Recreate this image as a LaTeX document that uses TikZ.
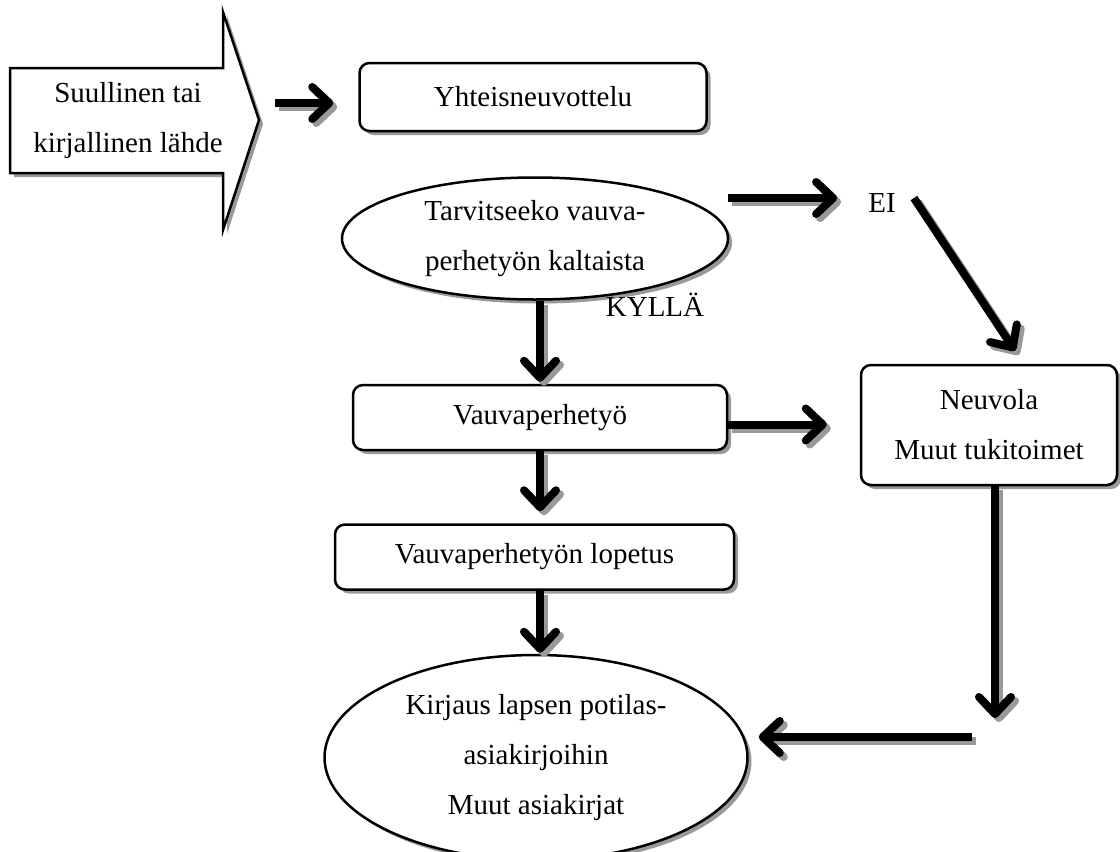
\documentclass[tikz,border=0pt]{standalone}
\usepackage{fontspec}
\setmainfont{Liberation Serif}
\usetikzlibrary{arrows.meta,positioning,shapes.geometric,shadows}

\begin{document}
\begin{tikzpicture}[
  x=1pt, y=-1pt,
  font=\fontsize{29}{50}\selectfont,
  varjo/.style={drop shadow={shadow xshift=4pt, shadow yshift=-4pt, fill=black!40, opacity=1}},
  box/.style={draw, line width=2.5pt, rounded corners=10pt, fill=white, varjo,
              align=center, inner sep=0pt},
  soikio/.style={ellipse, draw, line width=2.5pt, fill=white, varjo,
                 align=center, inner sep=0pt},
  teksti/.style={inner sep=0pt},
  arr/.style={line width=8pt, -{Straight Barb[length=17pt,width=32pt,round]}},
  varjoviiva/.style={draw=black!40, transform canvas={shift={(4pt,-4pt)}}}
]
\useasboundingbox (0,0) rectangle (1120,852);

% lahde: iso nuoli
\fill[black!40] (14,72) -- (227,72) -- (227,16) -- (263,124) -- (227,234) -- (227,177) -- (14,177) -- cycle;
\draw[line width=2.5pt, fill=white] (10,68) -- (223,68) -- (223,12) -- (259,120) -- (223,230) -- (223,173) -- (10,173) -- cycle;
\node[teksti, align=center] (lahde) at (128,121) {Suullinen tai\\kirjallinen lähde};
\coordinate (karki) at (275,103);

\node[box, minimum width=347pt, minimum height=68pt] (yht) at (533,97) {Yhteisneuvottelu};
\node[soikio, below=44pt of yht, xshift=2pt, minimum width=386pt, minimum height=122pt] (tarv)
  {Tarvitseeko vauva-\\perhetyön kaltaista};
\node[box, below=83pt of tarv, xshift=5pt, minimum width=374pt, minimum height=65pt] (vauva) {Vauvaperhetyö};
\node[box, below=72pt of vauva, xshift=-5.5pt, minimum width=399pt, minimum height=65pt] (lop) {Vauvaperhetyön lopetus};
\node[soikio, below=63pt of lop, xshift=1.5pt, minimum width=423pt, minimum height=205pt] (kirj)
  {Kirjaus lapsen potilas-\\asiakirjoihin\\Muut asiakirjat};

\node[box, minimum width=256pt, minimum height=120pt] (neuv) at (989,425) {Neuvola\\Muut tukitoimet};
\node[teksti] (ei) at (882,203) {EI};
\node[teksti] (kylla) at (655,305) {KYLLÄ};
\coordinate (kulma) at (995,737);

% nuolet: ensin varjo, sitten musta
\foreach \kerros in {varjoviiva, {}} {
  \draw[arr, \kerros, shorten >=25pt] (karki) -- (karki -| yht.west);
  \draw[arr, \kerros, shorten >=31pt] ([xshift=-1pt]tarv.east |- 0,198) -- (ei.west |- 0,198);
  \draw[arr, \kerros] ([xshift=18pt,yshift=5pt]ei.east) -- ([xshift=26pt,yshift=13pt]neuv.north);
  \draw[arr, \kerros, shorten >=2pt] (tarv.south -| vauva) -- (vauva.north);
  \draw[arr, \kerros, shorten >=33pt] ([yshift=-7pt]vauva.east) -- ([yshift=-7pt]vauva.east -| neuv.west);
  \draw[arr, \kerros, shorten >=12pt] (vauva.south) -- (vauva.south |- lop.north);
  \draw[arr, \kerros, shorten >=1pt] (lop.south -| vauva) -- (kirj.north -| vauva);
  \draw[arr, \kerros, shorten >=19pt] (neuv.south -| kulma) -- (kulma);
  \draw[arr, \kerros, shorten >=10pt] ([xshift=-23pt]kulma) -- (kirj.east |- kulma);
}
\end{tikzpicture}
\end{document}
